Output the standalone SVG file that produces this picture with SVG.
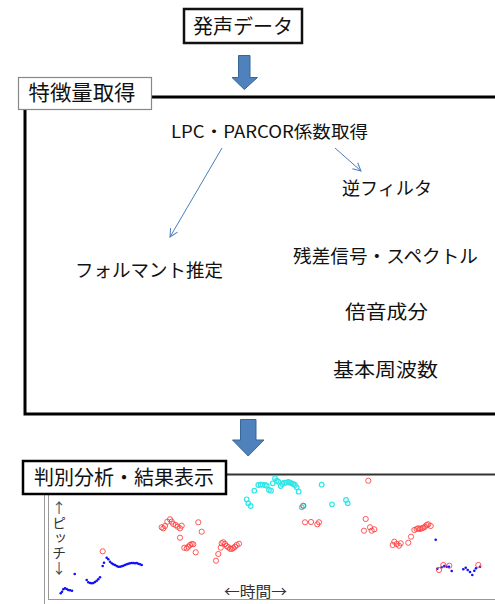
<svg xmlns="http://www.w3.org/2000/svg" width="495" height="604" viewBox="0 0 495 604">
<style>
.t{font-family:"Noto Sans CJK JP","Noto Sans",sans-serif;fill:#111;}
.vt{writing-mode:vertical-rl;text-orientation:upright;}
.blk{fill:#4F81BD;stroke:#3A6597;stroke-width:1;}
.thin{stroke:#4A7EBB;stroke-width:1;fill:none;}
.r{fill:none;stroke:#FF3B3B;stroke-width:1;stroke-opacity:0.85;}
.c{fill:none;stroke:#2EE6E6;stroke-width:1.2;}
.b{fill:#1010FF;}
</style>
<defs>
<marker id="ah" markerWidth="10" markerHeight="10" refX="9" refY="5" orient="auto" markerUnits="userSpaceOnUse">
<path d="M1,1 L9,5 L1,9" fill="none" stroke="#4A7EBB" stroke-width="1"/>
</marker>
</defs>
<rect width="495" height="604" fill="#fff"/>

<g id="node-voice">
<rect x="184" y="9" width="118" height="34" fill="#fff" stroke="#111" stroke-width="2.5"/>
<text class="t" x="243" y="34" font-size="20" text-anchor="middle" textLength="100" lengthAdjust="spacingAndGlyphs">発声データ</text>
</g>

<g id="node-feature">
<rect x="25" y="97" width="480" height="317" fill="none" stroke="#000" stroke-width="3"/>
<rect x="18.5" y="77.5" width="133" height="32" fill="#fff" stroke="#888" stroke-width="1.2"/>
<text class="t" x="82" y="100" font-size="21" text-anchor="middle" textLength="107" lengthAdjust="spacingAndGlyphs">特徴量取得</text>
</g>

<g id="node-lpc"><text class="t" x="269.5" y="138" font-size="17" text-anchor="middle" textLength="197" lengthAdjust="spacingAndGlyphs">LPC・PARCOR係数取得</text></g>
<g id="node-inverse"><text class="t" x="387" y="195" font-size="18" text-anchor="middle" textLength="90" lengthAdjust="spacingAndGlyphs">逆フィルタ</text></g>
<g id="node-formant"><text class="t" x="149" y="277" font-size="18.5" text-anchor="middle" textLength="148" lengthAdjust="spacingAndGlyphs">フォルマント推定</text></g>
<g id="node-residual"><text class="t" x="385.5" y="263" font-size="18.5" text-anchor="middle" textLength="185" lengthAdjust="spacingAndGlyphs">残差信号・スペクトル</text></g>
<g id="node-harmonic"><text class="t" x="386.5" y="319" font-size="19" text-anchor="middle" textLength="83" lengthAdjust="spacingAndGlyphs">倍音成分</text></g>
<g id="node-f0"><text class="t" x="385.5" y="377" font-size="19" text-anchor="middle" textLength="105" lengthAdjust="spacingAndGlyphs">基本周波数</text></g>

<g id="connectors">
<polygon class="blk" points="238.5,55.5 250,55.5 250,77.5 257.5,77.5 244.3,89.5 232,77.5 238.5,77.5"/>
<polygon class="blk" points="240.5,419.5 256,419.5 256,440 264,440 248.2,456 232.5,440 240.5,440"/>
<line class="thin" x1="222" y1="148" x2="170" y2="237" marker-end="url(#ah)"/>
<line class="thin" x1="335" y1="148" x2="361" y2="171" marker-end="url(#ah)"/>
</g>

<g id="node-result">
<line x1="226" y1="474.5" x2="495" y2="474.5" stroke="#333" stroke-width="2"/>
<line x1="44.5" y1="494" x2="44.5" y2="604" stroke="#999" stroke-width="1"/>
<line x1="48.5" y1="494" x2="48.5" y2="599.5" stroke="#999" stroke-width="1"/>
<line x1="48" y1="599.5" x2="495" y2="599.5" stroke="#999" stroke-width="1.2"/>
<rect x="23" y="461" width="203" height="33" fill="#fff" stroke="#000" stroke-width="2.5"/>
<text class="t" x="124" y="485" font-size="20" text-anchor="middle" textLength="180" lengthAdjust="spacingAndGlyphs">判別分析・結果表示</text>
<text class="t vt" x="59" y="501" font-size="14" textLength="74" lengthAdjust="spacing" style="fill:#333"><tspan style="fill:#2B5566">↑</tspan>ピッチ<tspan style="fill:#2B5566">↓</tspan></text>
<text class="t" x="255.5" y="597" font-size="15" text-anchor="middle" textLength="63" lengthAdjust="spacingAndGlyphs" style="fill:#333">←時間→</text>

<g id="blue">
<circle class="b" cx="60.7" cy="593.3" r="1.3"/><circle class="b" cx="62" cy="591.7" r="1.3"/><circle class="b" cx="63.3" cy="589.3" r="1.3"/><circle class="b" cx="65" cy="588.3" r="1.3"/><circle class="b" cx="66.7" cy="589" r="1.3"/><circle class="b" cx="68.3" cy="590" r="1.3"/><circle class="b" cx="70" cy="590.3" r="1.3"/><circle class="b" cx="72" cy="590.7" r="1.3"/>
<circle class="b" cx="74.7" cy="574" r="1.3"/>
<circle class="b" cx="86.7" cy="580" r="1.3"/><circle class="b" cx="88.3" cy="582.3" r="1.3"/><circle class="b" cx="90" cy="583" r="1.3"/><circle class="b" cx="91.7" cy="583.3" r="1.3"/><circle class="b" cx="93.3" cy="583" r="1.3"/><circle class="b" cx="95" cy="582" r="1.3"/><circle class="b" cx="96.7" cy="580.7" r="1.3"/><circle class="b" cx="98.3" cy="579.3" r="1.3"/><circle class="b" cx="100" cy="577.3" r="1.3"/>
<circle class="b" cx="102.7" cy="566" r="1.3"/><circle class="b" cx="104" cy="562.7" r="1.3"/>
<circle class="b" cx="106.7" cy="557.7" r="1.3"/><circle class="b" cx="108.3" cy="559.3" r="1.3"/><circle class="b" cx="110" cy="561.7" r="1.3"/><circle class="b" cx="111.7" cy="563.3" r="1.3"/><circle class="b" cx="113.3" cy="564.3" r="1.3"/><circle class="b" cx="115" cy="565" r="1.3"/><circle class="b" cx="116.7" cy="566" r="1.3"/><circle class="b" cx="118.3" cy="566.7" r="1.3"/><circle class="b" cx="120" cy="566.7" r="1.3"/><circle class="b" cx="121.7" cy="566.3" r="1.3"/><circle class="b" cx="123.3" cy="565.7" r="1.3"/><circle class="b" cx="125" cy="565" r="1.3"/><circle class="b" cx="126.7" cy="564.3" r="1.3"/><circle class="b" cx="128.3" cy="563.7" r="1.3"/><circle class="b" cx="130" cy="563.3" r="1.3"/><circle class="b" cx="131.7" cy="563" r="1.3"/><circle class="b" cx="133.3" cy="563" r="1.3"/><circle class="b" cx="135" cy="563.3" r="1.3"/><circle class="b" cx="136.7" cy="563" r="1.3"/><circle class="b" cx="138.3" cy="563.7" r="1.3"/><circle class="b" cx="140" cy="564.3" r="1.3"/><circle class="b" cx="141.7" cy="565" r="1.3"/>
<circle class="b" cx="435.7" cy="539.7" r="1.3"/>
<circle class="b" cx="437.3" cy="568.7" r="1.3"/><circle class="b" cx="441.7" cy="567.3" r="1.3"/><circle class="b" cx="444.3" cy="566" r="1.3"/><circle class="b" cx="446.7" cy="566.7" r="1.3"/><circle class="b" cx="449" cy="566.7" r="1.3"/><circle class="b" cx="451.7" cy="571" r="1.3"/>
<circle class="b" cx="463.3" cy="569.3" r="1.3"/><circle class="b" cx="465.7" cy="567.7" r="1.3"/><circle class="b" cx="467.7" cy="570" r="1.3"/><circle class="b" cx="470" cy="572" r="1.3"/><circle class="b" cx="472.3" cy="575" r="1.3"/><circle class="b" cx="474.3" cy="570.7" r="1.3"/><circle class="b" cx="476" cy="568.3" r="1.3"/><circle class="b" cx="480" cy="566.7" r="1.3"/>
</g>

<g id="cyan">
<circle class="c" cx="246.7" cy="499.3" r="2.3"/><circle class="c" cx="248.3" cy="503.3" r="2.3"/><circle class="c" cx="250.7" cy="506" r="2.3"/><circle class="c" cx="254.3" cy="490.7" r="2.3"/><circle class="c" cx="258.3" cy="485" r="2.3"/><circle class="c" cx="260.7" cy="484.7" r="2.3"/><circle class="c" cx="262.7" cy="484.7" r="2.3"/><circle class="c" cx="265" cy="485" r="2.3"/><circle class="c" cx="266.7" cy="485.7" r="2.3"/><circle class="c" cx="269" cy="490" r="2.3"/><circle class="c" cx="271" cy="490.7" r="2.3"/><circle class="c" cx="272.7" cy="483.3" r="2.3"/><circle class="c" cx="275" cy="478.3" r="2.3"/><circle class="c" cx="276.7" cy="480.7" r="2.3"/><circle class="c" cx="278.3" cy="481.7" r="2.3"/><circle class="c" cx="280.7" cy="486" r="2.3"/><circle class="c" cx="282.3" cy="484" r="2.3"/><circle class="c" cx="284" cy="482.7" r="2.3"/><circle class="c" cx="286" cy="482.7" r="2.3"/><circle class="c" cx="288.3" cy="482" r="2.3"/><circle class="c" cx="290" cy="482.7" r="2.3"/><circle class="c" cx="291.7" cy="483.3" r="2.3"/><circle class="c" cx="293.3" cy="484" r="2.3"/><circle class="c" cx="295" cy="485" r="2.3"/><circle class="c" cx="296.7" cy="487.3" r="2.3"/><circle class="c" cx="298.7" cy="491.7" r="2.3"/><circle class="c" cx="301.7" cy="507.3" r="2.3"/><circle class="c" cx="303.3" cy="506" r="2.3"/><circle class="c" cx="321.7" cy="484.7" r="2.3"/><circle class="c" cx="332" cy="504.3" r="2.3"/><circle class="c" cx="346" cy="500" r="2.3"/><circle class="c" cx="347.7" cy="503.3" r="2.3"/>
</g>

<g id="red">
<circle class="r" cx="102.7" cy="551.3" r="2.6"/>
<circle class="r" cx="161.7" cy="527.3" r="2.6"/><circle class="r" cx="163.3" cy="528.3" r="2.6"/><circle class="r" cx="165" cy="526" r="2.6"/><circle class="r" cx="167.3" cy="521.7" r="2.6"/><circle class="r" cx="170" cy="519.3" r="2.6"/><circle class="r" cx="171.7" cy="521.7" r="2.6"/><circle class="r" cx="173.3" cy="524" r="2.6"/><circle class="r" cx="175.7" cy="525" r="2.6"/><circle class="r" cx="177.7" cy="526.7" r="2.6"/><circle class="r" cx="180" cy="528.3" r="2.6"/><circle class="r" cx="181.7" cy="525.7" r="2.6"/><circle class="r" cx="180" cy="537.7" r="2.6"/><circle class="r" cx="184.3" cy="547.7" r="2.6"/><circle class="r" cx="186.7" cy="548.3" r="2.6"/><circle class="r" cx="188.3" cy="546.7" r="2.6"/><circle class="r" cx="190" cy="545" r="2.6"/><circle class="r" cx="191.7" cy="544" r="2.6"/><circle class="r" cx="193.3" cy="544.3" r="2.6"/><circle class="r" cx="195.7" cy="552.3" r="2.6"/><circle class="r" cx="198.3" cy="522.3" r="2.6"/><circle class="r" cx="201.7" cy="531.7" r="2.6"/>
<circle class="r" cx="216" cy="560.7" r="2.6"/><circle class="r" cx="218.3" cy="554" r="2.6"/><circle class="r" cx="220.7" cy="547.7" r="2.6"/><circle class="r" cx="221.7" cy="543.3" r="2.6"/><circle class="r" cx="223.3" cy="542.3" r="2.6"/><circle class="r" cx="225" cy="544" r="2.6"/><circle class="r" cx="226.7" cy="546" r="2.6"/><circle class="r" cx="228.3" cy="547.3" r="2.6"/><circle class="r" cx="230" cy="548.7" r="2.6"/><circle class="r" cx="231.7" cy="549" r="2.6"/><circle class="r" cx="233.3" cy="548" r="2.6"/><circle class="r" cx="235" cy="546.7" r="2.6"/><circle class="r" cx="236.7" cy="545" r="2.6"/><circle class="r" cx="239" cy="543.7" r="2.6"/>
<circle class="r" cx="303.3" cy="505.7" r="2.6"/><circle class="r" cx="305" cy="522.3" r="2.6"/><circle class="r" cx="311" cy="522" r="2.6"/><circle class="r" cx="317.3" cy="524.3" r="2.6"/><circle class="r" cx="319" cy="522.3" r="2.6"/>
<circle class="r" cx="368.3" cy="480.7" r="2.6"/><circle class="r" cx="365.7" cy="519" r="2.6"/><circle class="r" cx="364" cy="530.7" r="2.6"/><circle class="r" cx="370" cy="527.3" r="2.6"/><circle class="r" cx="371.7" cy="530.7" r="2.6"/><circle class="r" cx="374.3" cy="529.3" r="2.6"/>
<circle class="r" cx="392.7" cy="545" r="2.6"/><circle class="r" cx="394.3" cy="541.7" r="2.6"/><circle class="r" cx="396.7" cy="544" r="2.6"/><circle class="r" cx="399" cy="545.7" r="2.6"/><circle class="r" cx="400.7" cy="543.3" r="2.6"/><circle class="r" cx="408.3" cy="542.7" r="2.6"/><circle class="r" cx="411" cy="536.7" r="2.6"/><circle class="r" cx="414.3" cy="530" r="2.6"/><circle class="r" cx="416.7" cy="529" r="2.6"/><circle class="r" cx="418.3" cy="528.3" r="2.6"/><circle class="r" cx="420" cy="529" r="2.6"/><circle class="r" cx="421.7" cy="528.3" r="2.6"/><circle class="r" cx="423.3" cy="527.7" r="2.6"/><circle class="r" cx="425" cy="526.7" r="2.6"/><circle class="r" cx="426.7" cy="525" r="2.6"/><circle class="r" cx="428.3" cy="524.3" r="2.6"/><circle class="r" cx="430.7" cy="526" r="2.6"/>
<circle class="r" cx="439" cy="570" r="2.6"/><circle class="r" cx="443.3" cy="565" r="2.6"/><circle class="r" cx="449.3" cy="565.7" r="2.6"/><circle class="r" cx="478.3" cy="565" r="2.6"/>
</g>
</g>
</svg>
